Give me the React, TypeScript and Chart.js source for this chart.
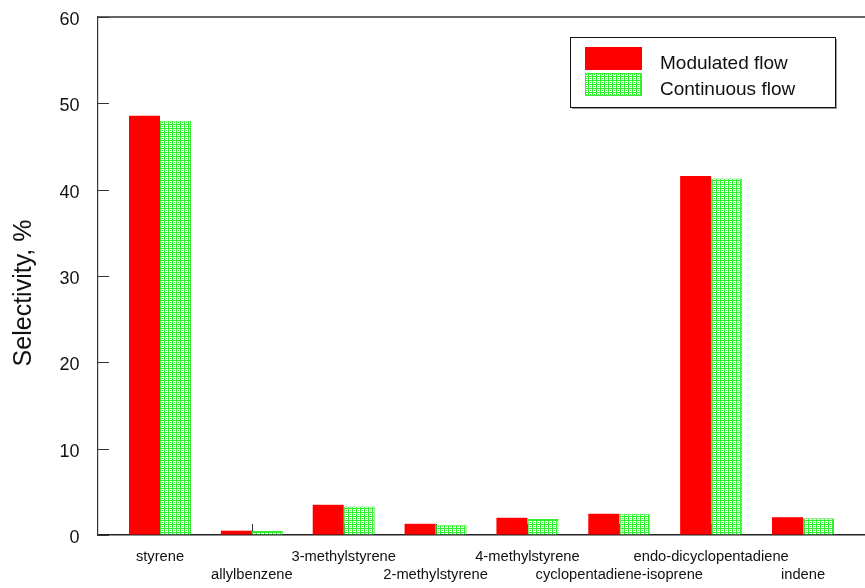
import React, { useEffect, useRef } from 'react';
import { Chart, registerables } from 'chart.js';

Chart.register(...registerables);

const categories = [
  'styrene',
  'allylbenzene',
  '3-methylstyrene',
  '2-methylstyrene',
  '4-methylstyrene',
  'cyclopentadiene-isoprene',
  'endo-dicyclopentadiene',
  'indene',
];
const modulatedFlow = [48.55, 0.5, 3.5, 1.3, 2.0, 2.46, 41.57, 2.06];
const continuousFlow = [47.98, 0.45, 3.3, 1.18, 1.85, 2.46, 41.3, 1.95];
const yTicks = [0, 10, 20, 30, 40, 50, 60];
const seriesNames = ['Modulated flow', 'Continuous flow'];
const yTitle = 'Selectivity, %';

const FONT = "'Liberation Sans', Arial, Helvetica, sans-serif";

function makePattern(): CanvasPattern | string {
  const c = document.createElement('canvas');
  c.width = 4;
  c.height = 4;
  const g = c.getContext('2d');
  if (!g) return '#33ee33';
  g.fillStyle = '#ffffff';
  g.fillRect(0, 0, 4, 4);
  g.fillStyle = '#2cf02c';
  g.fillRect(0, 0, 4, 1);
  g.fillRect(0, 0, 1, 4);
  g.fillRect(2, 2, 1, 1);
  const p = g.createPattern(c, 'repeat');
  return p || '#33ee33';
}

export default function App() {
  const ref = useRef<HTMLCanvasElement | null>(null);

  useEffect(() => {
    const canvas = ref.current;
    if (!canvas) return;
    const pattern = makePattern();

    const decor = {
      id: 'decor',
      beforeDatasetsDraw(chart: any) {
        const { ctx, scales } = chart;
        const x = scales.x;
        const y = scales.y;
        ctx.save();
        ctx.strokeStyle = '#333';
        ctx.lineWidth = 1;
        const base = y.getPixelForValue(0);
        categories.forEach((_, i) => {
          const px = Math.round(x.getPixelForValue(i)) + 0.5;
          ctx.beginPath();
          ctx.moveTo(px, base);
          ctx.lineTo(px, base - 11);
          ctx.stroke();
        });
        ctx.restore();
      },
      afterDraw(chart: any) {
        const { ctx, chartArea, scales } = chart;
        const y = scales.y;
        ctx.save();
        // top frame line
        ctx.strokeStyle = '#333';
        ctx.lineWidth = 1.5;
        ctx.beginPath();
        ctx.moveTo(chartArea.left, chartArea.top);
        ctx.lineTo(chartArea.right, chartArea.top);
        ctx.stroke();
        // inward y ticks
        ctx.lineWidth = 1;
        yTicks.forEach((v) => {
          const py = Math.round(y.getPixelForValue(v)) + 0.5;
          ctx.beginPath();
          ctx.moveTo(chartArea.left, py);
          ctx.lineTo(chartArea.left + 11, py);
          ctx.stroke();
        });
        // legend box
        ctx.fillStyle = '#999';
        ctx.fillRect(572, 39, 265, 70);
        ctx.fillStyle = '#fff';
        ctx.fillRect(570, 37, 265, 70);
        ctx.strokeStyle = '#111';
        ctx.lineWidth = 1;
        ctx.strokeRect(570.5, 37.5, 265, 70);
        ctx.fillStyle = '#ff0000';
        ctx.fillRect(585, 47, 57, 23);
        ctx.fillStyle = pattern as any;
        ctx.fillRect(585, 73, 57, 23);
        ctx.strokeStyle = '#33ee33';
        ctx.strokeRect(585.5, 73.5, 56, 22);
        ctx.fillStyle = '#111';
        ctx.font = `19px ${FONT}`;
        ctx.textAlign = 'left';
        ctx.textBaseline = 'alphabetic';
        ctx.fillText(seriesNames[0], 660, 69);
        ctx.fillText(seriesNames[1], 660, 95);
        // y title
        ctx.translate(24.5, 293);
        ctx.rotate(-Math.PI / 2);
        ctx.font = `25px ${FONT}`;
        ctx.textAlign = 'center';
        ctx.textBaseline = 'middle';
        ctx.fillText(yTitle, 0, 0);
        ctx.restore();
      },
    };

    const chart = new Chart(canvas, {
      type: 'bar',
      data: {
        datasets: [
          {
            label: seriesNames[0],
            data: modulatedFlow.map((v, i) => ({ x: i, y: v })),
            backgroundColor: '#ff0000',
            borderColor: '#ff3030',
            borderWidth: 0,
          },
          {
            label: seriesNames[1],
            data: continuousFlow.map((v, i) => ({ x: i, y: v })),
            backgroundColor: pattern as any,
            borderColor: '#33ee33',
            borderWidth: 1,
          },
        ],
      },
      options: {
        responsive: false,
        animation: false,
        layout: { padding: { top: 17, right: 0, left: 0, bottom: 0 } },
        plugins: { legend: { display: false }, tooltip: { enabled: false } },
        datasets: { bar: { categoryPercentage: 0.675, barPercentage: 1 } } as any,
        scales: {
          x: {
            type: 'linear',
            min: -0.675,
            max: 7.675,
            offset: false,
            afterBuildTicks: (s: any) => {
              s.ticks = categories.map((_, i) => ({ value: i }));
            },
            afterFit: (s: any) => {
              s.height = 53;
              s.paddingLeft = 0;
              s.paddingRight = 0;
            },
            grid: { display: true, drawOnChartArea: false, drawTicks: false },
            border: { display: true, color: '#222', width: 1.5 },
            ticks: {
              autoSkip: false,
              maxRotation: 0,
              minRotation: 0,
              padding: 13,
              color: '#111',
              font: { family: FONT, size: 14.7, lineHeight: 1.24 },
              callback: (v: any) => {
                const i = Math.round(Number(v));
                const l = categories[i] ?? '';
                return i % 2 === 0 ? [l] : ['', l];
              },
            },
          },
          y: {
            min: 0,
            max: 60,
            afterBuildTicks: (s: any) => {
              s.ticks = yTicks.map((v) => ({ value: v }));
            },
            afterFit: (s: any) => {
              s.width = 98;
              s.paddingTop = 0;
              s.paddingBottom = 0;
            },
            grid: { display: true, drawOnChartArea: false, drawTicks: false },
            border: { display: true, color: '#333', width: 1.2 },
            ticks: {
              padding: 18.5,
              labelOffset: 3,
              color: '#111',
              font: { family: FONT, size: 18 },
            },
          },
        },
      } as any,
      plugins: [decor],
    });

    return () => chart.destroy();
  }, []);

  return (
    <div style={{ position: 'fixed', left: 0, top: 0, width: 865, height: 588, background: '#fff' }}>
      <canvas ref={ref} width={865} height={588} style={{ display: 'block', width: 865, height: 588 }} />
    </div>
  );
}
